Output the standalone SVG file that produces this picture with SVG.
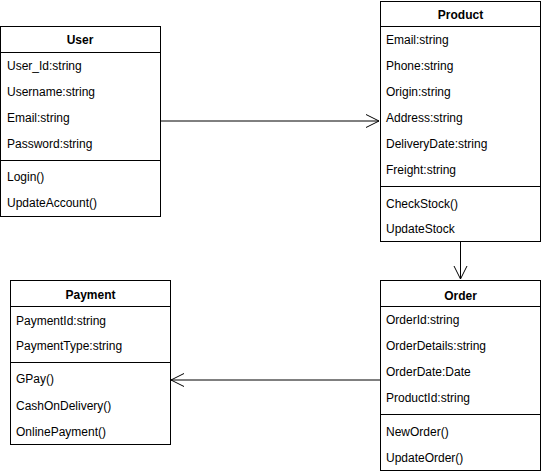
<svg xmlns="http://www.w3.org/2000/svg" width="541" height="474" viewBox="0 0 541 474">
<style>
.box{fill:#ffffff;stroke:#000000;stroke-width:1}
.sep{stroke:#000000;stroke-width:1;fill:none}
.title{font-family:"Liberation Sans",Arial,sans-serif;font-size:12px;font-weight:bold;fill:#000000;text-anchor:middle}
.attr{font-family:"Liberation Sans",Arial,sans-serif;font-size:12px;fill:#000000}
.edge{stroke:#000000;stroke-width:1;fill:none}
</style>
<defs>
<marker id="open" viewBox="0 0 15 15" refX="14" refY="7.5" markerWidth="15" markerHeight="15" markerUnits="userSpaceOnUse" orient="auto">
<path d="M1,1 L14,7.5 L1,14" fill="none" stroke="#000000" stroke-width="1"/>
</marker>
</defs>
<rect width="541" height="474" fill="#ffffff"/>
<g id="connectors">
<path class="edge" d="M160,121 L379,121" marker-end="url(#open)"/>
<path class="edge" d="M460.5,241 L460.5,279" marker-end="url(#open)"/>
<path class="edge" d="M380,380 L171,380" marker-end="url(#open)"/>
</g>
<g id="user">
<rect class="box" x="0.5" y="26.5" width="160" height="190"/>
<line class="sep" x1="0.5" y1="52.5" x2="160.5" y2="52.5"/>
<line class="sep" x1="0.5" y1="160.5" x2="160.5" y2="160.5"/>
<text class="title" x="80" y="43.5">User</text>
<text class="attr" x="7" y="70">User_Id:string</text>
<text class="attr" x="7" y="96">Username:string</text>
<text class="attr" x="7" y="122">Email:string</text>
<text class="attr" x="7" y="148">Password:string</text>
<text class="attr" x="7" y="181">Login()</text>
<text class="attr" x="7" y="207">UpdateAccount()</text>
</g>
<g id="product">
<rect class="box" x="380.5" y="1.5" width="160" height="240"/>
<line class="sep" x1="380.5" y1="26.5" x2="540.5" y2="26.5"/>
<line class="sep" x1="380.5" y1="186.5" x2="540.5" y2="186.5"/>
<text class="title" x="460.5" y="18.5">Product</text>
<text class="attr" x="386" y="44">Email:string</text>
<text class="attr" x="386" y="70">Phone:string</text>
<text class="attr" x="386" y="96">Origin:string</text>
<text class="attr" x="386" y="122">Address:string</text>
<text class="attr" x="386" y="148">DeliveryDate:string</text>
<text class="attr" x="386" y="174">Freight:string</text>
<text class="attr" x="386" y="208">CheckStock()</text>
<text class="attr" x="386" y="233">UpdateStock</text>
</g>
<g id="order">
<rect class="box" x="380.5" y="280.5" width="160" height="190"/>
<line class="sep" x1="380.5" y1="306.5" x2="540.5" y2="306.5"/>
<line class="sep" x1="380.5" y1="414.5" x2="540.5" y2="414.5"/>
<text class="title" x="460.5" y="299.5">Order</text>
<text class="attr" x="386" y="323.5">OrderId:string</text>
<text class="attr" x="386" y="349.5">OrderDetails:string</text>
<text class="attr" x="386" y="375.5">OrderDate:Date</text>
<text class="attr" x="386" y="401.5">ProductId:string</text>
<text class="attr" x="386" y="435.5">NewOrder()</text>
<text class="attr" x="386" y="462">UpdateOrder()</text>
</g>
<g id="payment">
<rect class="box" x="10.5" y="280.5" width="160" height="164"/>
<line class="sep" x1="10.5" y1="306.5" x2="170.5" y2="306.5"/>
<line class="sep" x1="10.5" y1="362.5" x2="170.5" y2="362.5"/>
<text class="title" x="90.5" y="298.5">Payment</text>
<text class="attr" x="16" y="324.5">PaymentId:string</text>
<text class="attr" x="16" y="350">PaymentType:string</text>
<text class="attr" x="16" y="383">GPay()</text>
<text class="attr" x="16" y="409.5">CashOnDelivery()</text>
<text class="attr" x="16" y="436">OnlinePayment()</text>
</g>
</svg>
